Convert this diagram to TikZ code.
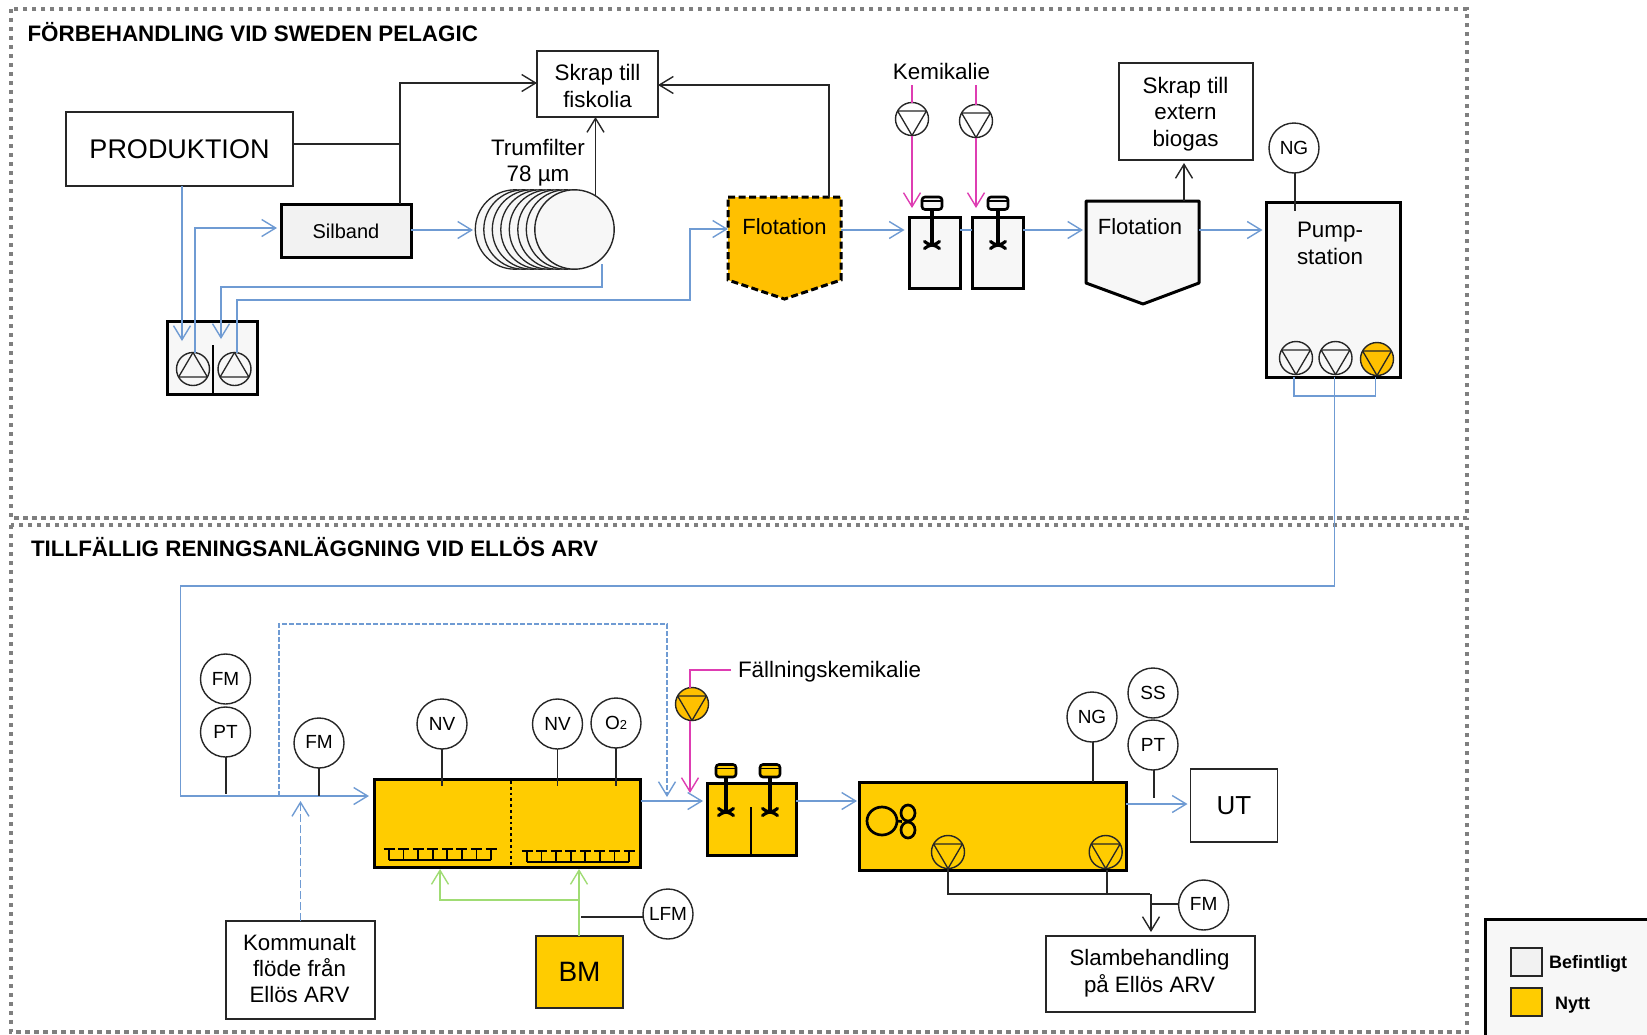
\documentclass[tikz,border=0pt]{standalone}
\usepackage{fontspec}
\setmainfont{Liberation Sans}
\usetikzlibrary{arrows.meta,calc,shapes.geometric}
\definecolor{flowblue}{HTML}{6F9BD3}
\definecolor{chemmag}{HTML}{DE3DB2}
\definecolor{airgreen}{HTML}{A0DC74}
\definecolor{newyel}{HTML}{FFCC00}
\definecolor{newora}{HTML}{FFC000}
\definecolor{oldgray}{HTML}{F7F7F7}
\definecolor{swgray}{HTML}{F2F2F2}
\definecolor{framegray}{HTML}{7F7F7F}
\newcommand{\fs}[1]{\fontsize{#1}{#1}\selectfont}
\tikzset{
  x=1pt,y=-1pt,
  barb/.style={-{Straight Barb[length=14pt,width=17pt,line width=1.4pt]}},
  flow/.style={draw=flowblue,line width=1.7pt},
  flowdash/.style={draw=flowblue,line width=1.5pt,dash pattern=on 5pt off 2pt},
  flowlong/.style={draw=flowblue,line width=1.5pt,dash pattern=on 8pt off 3pt},
  chem/.style={draw=chemmag,line width=1.6pt},
  air/.style={draw=airgreen,line width=1.7pt},
  sig/.style={draw=black!85,line width=1.4pt},
  regionframe/.style={draw=framegray,line width=4pt,dash pattern=on 4.5pt off 4.5pt},
  rbox/.style={rectangle,draw=black!85,line width=1.4pt,fill=white,inner sep=0pt,outer sep=0pt,align=center,font=\fs{22.3}},
  tbox/.style={rbox,draw=black,line width=3pt,fill=oldgray},
  ybox/.style={rbox,draw=black,line width=3pt,fill=newyel},
  txt/.style={inner sep=0pt,outer sep=0pt,align=center,font=\fs{22.4}},
  bold/.style={inner sep=0pt,outer sep=0pt,anchor=west,font=\bfseries\fs{22.4}},
  inst/.style={circle,draw=black!85,line width=1.4pt,fill=white,minimum size=50pt,inner sep=0pt,outer sep=0pt,font=\fs{19}},
  pumpc/.style={circle,draw=black!85,line width=1.4pt,minimum size=33pt,inner sep=0pt,outer sep=0pt},
  tri/.style={draw=black!85,line width=1.3pt,line join=round},
  mech/.style={draw=black,line width=3.1pt,line cap=round},
  motor/.style={draw=black,line width=2.6pt,rounded corners=3pt},
}
% pump symbols: name, position, fill
\newcommand{\pumpdown}[3]{%
  \node[pumpc,fill=#3] (#1) at (#2) {};
  \draw[tri] ([xshift=-14.4pt,yshift=8pt]#1.center) -- ([xshift=14.4pt,yshift=8pt]#1.center) -- ([yshift=-16.5pt]#1.center) -- cycle;}
\newcommand{\pumpup}[3]{%
  \node[pumpc,fill=#3] (#1) at (#2) {};
  \draw[tri] ([xshift=-14.4pt,yshift=-8pt]#1.center) -- ([xshift=14.4pt,yshift=-8pt]#1.center) -- ([yshift=16.5pt]#1.center) -- cycle;}
% mixer: name, x of shaft, motor centre y, blade y, motor fill
\newcommand{\mixer}[5]{%
  \coordinate (#1m) at (#2,#3);
  \coordinate (#1b) at (#2,#4);
  \draw[mech] (#1m) -- (#1b);
  \draw[motor,fill=#5] ([xshift=-10pt,yshift=6pt]#1m) rectangle ([xshift=10pt,yshift=-6.5pt]#1m);
  \draw[black,line width=1.1pt] ([xshift=-9pt,yshift=2pt]#1m) -- ([xshift=9pt,yshift=2pt]#1m);
  \draw[mech] ([xshift=-7.5pt,yshift=3.5pt]#1b) .. controls ([xshift=-3pt,yshift=-1pt]#1b) and ([xshift=3pt,yshift=1pt]#1b) .. ([xshift=7.5pt,yshift=-3.5pt]#1b);
  \draw[mech] ([xshift=-7.5pt,yshift=-3.5pt]#1b) .. controls ([xshift=-3pt,yshift=1pt]#1b) and ([xshift=3pt,yshift=-1pt]#1b) .. ([xshift=7.5pt,yshift=3.5pt]#1b);}
% diffuser: left x, right x, top y, bottom y
\newcommand{\diffuser}[4]{%
  \draw[black,line width=1.7pt] (#1,#4) -- (#2,#4);
  \pgfmathsetmacro{\dstep}{(#2-#1)/7}
  \foreach \k in {0,...,7}{
    \pgfmathsetmacro{\dx}{#1+\k*\dstep}
    \draw[black,line width=1.7pt] (\dx,#4) -- (\dx,#3);
    \draw[black,line width=1.7pt] (\dx-5.5,#3) -- (\dx+5.5,#3);
  }}
\begin{document}
\begin{tikzpicture}
\useasboundingbox (0,0) rectangle (1647,1034);
% regions
\node[inner sep=0pt,minimum width=1456pt,minimum height=509pt] (r1) at (739,263.5) {};
\node[inner sep=0pt,minimum width=1456pt,minimum height=507pt] (r2) at (739,778.5) {};
\draw[regionframe] (r1.north west) rectangle (r1.south east);
\draw[regionframe] (r2.north west) rectangle (r2.south east);
\node[bold] (t1) at (27.5,32) {FÖRBEHANDLING VID SWEDEN PELAGIC};
\node[bold] (t2) at (31,547) {TILLFÄLLIG RENINGSANLÄGGNING VID ELLÖS ARV};

% ---- upper plant nodes
\node[rbox,minimum width=227pt,minimum height=74pt,font=\fs{27}] (prod) at (179.5,149) {PRODUKTION};
\node[rbox,minimum width=121pt,minimum height=66pt] (skrap1) at (597.5,84) {};
\node[txt] (skrap1txt) at (597.5,86) {Skrap till\\[5pt]fiskolia};
\node[tbox,minimum width=130pt,minimum height=53pt,fill=swgray] (silband) at (346,230.5) {};
\node[txt,font=\fs{20}] (silbandtxt) at (346,231) {Silband};
\node[txt] (trumtxt) at (538,163) {Trumfilter\\[4pt]78 µm};
% drum
\foreach \k in {0,...,6}{
  \draw[black!85,line width=1.3pt,fill=oldgray] (515+\k*8.5,229.5) circle[radius=39.7pt];
}
\node[circle,draw=black!85,line width=1.4pt,fill=oldgray,minimum size=79.4pt,inner sep=0pt,outer sep=0pt] (drum) at (574.5,229.5) {};
\coordinate (drumleft) at (473,230);
% sump
\node[tbox,minimum width=90pt,minimum height=73pt] (sump) at (212,357.5) {};
\coordinate (sumptop) at (213,345);
\draw[black,line width=2.4pt] (sumptop) -- (213,394);
\pumpup{sp1}{193,369}{oldgray}
\pumpup{sp2}{234.5,369}{oldgray}
% flotation 1
\node[inner sep=0pt,outer sep=0pt,minimum width=113pt,minimum height=83pt] (flot1) at (784.5,238.5) {};
\coordinate (flot1tip) at (784.5,299);
\draw[black,line width=3pt,dash pattern=on 7pt off 3.5pt,fill=newora] (flot1.north west) -- (flot1.north east) -- (flot1.south east) -- (flot1tip) -- (flot1.south west) -- cycle;
\node[txt,font=\fs{22}] (flot1txt) at (784.5,227) {Flotation};
% chemical pumps
\node[txt] (kem) at (941.5,71.5) {Kemikalie};
\pumpdown{kp1}{912,119}{white}
\pumpdown{kp2}{976,121}{white}
% flocculation tanks
\node[tbox,minimum width=51pt,minimum height=71pt] (ft1) at (934.5,252.5) {};
\node[tbox,minimum width=51pt,minimum height=71pt] (ft2) at (997.5,252.5) {};
\mixer{mx1}{932}{203}{245}{oldgray}
\mixer{mx2}{998}{203}{245}{oldgray}
% flotation 2
\node[inner sep=0pt,outer sep=0pt,minimum width=113pt,minimum height=82pt] (flot2) at (1142.5,242) {};
\coordinate (flot2tip) at (1143,304);
\draw[black,line width=3pt,line join=round,fill=oldgray] (flot2.north west) -- (flot2.north east) -- (flot2.south east) -- (flot2tip) -- (flot2.south west) -- cycle;
\node[txt,font=\fs{22}] (flot2txt) at (1140,227) {Flotation};
\node[rbox,minimum width=134pt,minimum height=97pt] (skrap2) at (1186,111.5) {};
\node[txt] (skrap2txt) at (1185.5,114) {Skrap till\\[4pt]extern\\[4pt]biogas};
% pump station
\node[tbox,minimum width=134pt,minimum height=175pt] (ps) at (1333,289.5) {};
\node[txt] (pstxt) at (1330,243.5) {Pump-\\[5pt]station};
\node[inst,minimum size=50pt] (ng1) at (1294,148) {\raisebox{1pt}{NG}};
\pumpdown{pp1}{1296,358}{oldgray}
\pumpdown{pp2}{1335.5,358}{oldgray}
\pumpdown{pp3}{1377,359}{newora}

% ---- upper connectors
\coordinate (j1) at (400,144);
\coordinate (j2) at (400,83);
\draw[sig] (prod.east |- j1) -- (j1);
\draw[sig,barb] (silband.north -| j1) -- (j2) -- (skrap1.west |- j2);
\coordinate (drumup) at (595.5,195);
\draw[sig,barb] (drumup) -- (drumup |- skrap1.south);
\coordinate (fl1up) at (829,85);
\draw[sig,barb] (fl1up |- flot1.north) -- (fl1up) -- (skrap1.east |- fl1up);
\coordinate (fl2up) at (1184,163);
\draw[sig,barb] (fl2up |- flot2.north) -- (fl2up);
\coordinate (ngd) at (1295,211);
\draw[sig] (ngd |- ng1.south) -- (ngd);

\coordinate (a1) at (182,341);
\draw[flow,barb] (a1 |- prod.south) -- (a1);
\coordinate (a2) at (195,228);
\coordinate (a3) at (277,228);
\draw[flow,barb] (a2 |- sp1.north) -- (a2) -- (a3);
\draw[flow,barb] (silband.east |- drumleft) -- (drumleft);
\coordinate (b1) at (602,287);
\coordinate (b2) at (221,287);
\coordinate (b3) at (221,339);
\draw[flow,barb] (602,264) -- (b1) -- (b2) -- (b3);
\coordinate (c1) at (237,300);
\coordinate (c2) at (690,300);
\coordinate (c3) at (690,229);
\draw[flow,barb] (c1 |- sp2.north) -- (c1) -- (c2) -- (c3) -- (flot1.west |- c3);
\coordinate (d1) at (904.5,230);
\draw[flow,barb] (flot1.east |- d1) -- (d1);
\draw[flow] (ft1.east |- d1) -- (ft2.west |- d1);
\coordinate (d2) at (1083,230);
\draw[flow,barb] (ft2.east |- d2) -- (d2);
\coordinate (d3) at (1262.5,230);
\draw[flow,barb] (flot2.east |- d3) -- (d3);
\coordinate (kt1) at (912,85);
\coordinate (kt2) at (976,85);
\coordinate (ka1) at (912,208);
\coordinate (ka2) at (976,208);
\draw[chem] (kt1) -- (kp1.north);
\draw[chem] (kt2) -- (kp2.north);
\draw[chem,barb] (kp1.south) -- (ka1);
\draw[chem,barb] (kp2.south) -- (ka2);
\coordinate (e1) at (1294,396);
\coordinate (e2) at (1375.5,396);
\coordinate (e3) at (1334.5,586);
\coordinate (e4) at (180.5,586);
\coordinate (e5) at (180.5,796);
\coordinate (e6) at (369,796);
\draw[flow] (e1 |- ps.south) -- (e1) -- (e2) -- (e2 |- ps.south);
\draw[flow,barb] (e3 |- ps.south) -- (e3) -- (e4) -- (e5) -- (e6);

% ---- lower plant nodes
\node[inst] (fm1) at (225.5,679) {FM};
\node[inst] (pt1) at (225.5,732) {PT};
\node[inst] (fm2) at (319,743) {\raisebox{3pt}{FM}};
\node[rbox,minimum width=149pt,minimum height=98pt] (komm) at (300.5,970) {};
\node[txt,font=\fs{22.3}] (kommtxt) at (299.5,968.5) {Kommunalt\\[4pt]flöde från\\[4pt]Ellös ARV};
\node[ybox,minimum width=266.5pt,minimum height=88pt] (bio) at (507.5,823) {};
\coordinate (divtop) at (511,781);
\draw[black,line width=2.8pt,dash pattern=on 2.8pt off 3pt] (divtop) -- (511,866);
\diffuser{389}{491}{849}{860}
\diffuser{527}{629}{851}{862}
\node[inst] (nv1) at (442,724) {NV};
\node[inst] (nv2) at (557.5,724) {NV};
\node[inst] (o2) at (616,723) {O{\fs{13}2}};
\node[rbox,minimum width=87pt,minimum height=72pt,draw=black!85,fill=newyel,font=\fs{28}] (bm) at (579.5,972) {BM};
\node[inst] (lfm) at (668,914) {LFM};
\node[txt,anchor=west] (fall) at (738,672) {Fällningskemikalie};
\pumpdown{fp}{692,704}{newora}
\node[ybox,minimum width=89pt,minimum height=72pt] (mix) at (751.5,819) {};
\coordinate (mixdiv) at (751,807);
\draw[black,line width=2.6pt] (mixdiv) -- (mix.south -| mixdiv);
\mixer{mx3}{726}{770.5}{812}{newyel}
\mixer{mx4}{770}{770.5}{812}{newyel}
\node[ybox,minimum width=267pt,minimum height=88pt] (aer) at (992.5,826) {};
% fan
\node[ellipse,draw=black,line width=2.7pt,minimum width=30pt,minimum height=28pt,inner sep=0pt,outer sep=0pt] (fan) at (882,821) {};
\draw[black,line width=2.7pt] (908,813) ellipse[x radius=7pt,y radius=8pt];
\draw[black,line width=2.7pt] (908,830) ellipse[x radius=7pt,y radius=8pt];
\coordinate (fanhub) at (902,821.5);
\draw[black,line width=2.7pt] (fan.east) -- (fanhub);
\pumpdown{ap1}{948,852}{newyel}
\pumpdown{ap2}{1105.7,852}{newyel}
\node[inst] (ng2) at (1092,717) {NG};
\node[inst] (ss) at (1153,693) {SS};
\node[inst] (pt2) at (1153,745) {PT};
\node[rbox,minimum width=87pt,minimum height=73pt,font=\fs{26}] (ut) at (1234,805.5) {};
\node[txt,font=\fs{26}] (uttxt) at (1234,806) {UT};
\node[inst] (fm3) at (1203.6,905) {\raisebox{3pt}{FM}};
\node[rbox,minimum width=209pt,minimum height=76pt] (slam) at (1150.5,974) {};
\node[txt,font=\fs{22.3}] (slamtxt) at (1149.5,973) {Slambehandling\\[3pt]på Ellös ARV};

% ---- lower connectors
\coordinate (f1) at (226,794);
\draw[sig] (f1 |- pt1.south) -- (f1);
\coordinate (f2) at (319,796);
\draw[sig] (fm2.south) -- (f2);
\coordinate (g1) at (279,796);
\coordinate (g2) at (279,624);
\coordinate (g3) at (667,624);
\coordinate (g4) at (667,797);
\draw[flowdash,barb] (g1) -- (g2) -- (g3) -- (g4);
\coordinate (g5) at (300.5,801);
\draw[flowlong,barb] (g5 |- komm.north) -- (g5);
\coordinate (h1) at (442,786);
\coordinate (h2) at (557.5,786);
\coordinate (h3) at (616,786);
\draw[sig] (nv1.south) -- (h1);
\draw[sig] (nv2.south) -- (h2);
\draw[sig] (h3 |- o2.south) -- (h3);
\coordinate (i1) at (703,801);
\draw[flow,barb] (bio.east |- i1) -- (i1);
\coordinate (i2) at (857,801);
\draw[flow,barb] (mix.east |- i2) -- (i2);
\coordinate (i3) at (1187.5,804);
\draw[flow,barb] (aer.east |- i3) -- (i3);
\coordinate (i4) at (1154,798);
\draw[sig] (i4 |- pt2.south) -- (i4);
\coordinate (i5) at (1093,782);
\draw[sig] (i5 |- ng2.south) -- (i5);
\coordinate (k1) at (690,670);
\coordinate (k2) at (731,670);
\coordinate (k3) at (690,793);
\draw[chem] (k2) -- (k1) -- (k1 |- fp.north);
\draw[chem,barb] (k1 |- fp.south) -- (k3);
\coordinate (l1) at (579,869);
\coordinate (l2) at (579,900);
\coordinate (l3) at (440,900);
\coordinate (l4) at (440,869);
\draw[air,barb] (l1 |- bm.north) -- (l1);
\draw[air,barb] (l2) -- (l3) -- (l4);
\coordinate (m1) at (581,917);
\draw[sig] (m1) -- (lfm.west |- m1);
\coordinate (n1) at (948,894);
\coordinate (n2) at (1150,894);
\coordinate (n3) at (1107,894);
\coordinate (n4) at (1151,894);
\coordinate (n5) at (1151,932);
\coordinate (n6) at (1151,904);
\draw[sig] (ap1.south) -- (n1) -- (n2);
\draw[sig] (n3 |- aer.south) -- (n3);
\draw[sig,barb] (n4) -- (n5);
\draw[sig] (n6) -- (fm3.west |- n6);

% legend
\node[tbox,minimum width=180pt,minimum height=130pt,anchor=north west] (leg) at (1485.5,919) {};
\node[rbox,minimum width=31pt,minimum height=28pt,fill=swgray] (sw1) at (1526.5,962) {};
\node[rbox,minimum width=31pt,minimum height=28pt,fill=newyel] (sw2) at (1526.5,1002) {};
\node[bold,font=\bfseries\fs{18}] (lt1) at (1549,964) {Befintligt};
\node[bold,font=\bfseries\fs{18}] (lt2) at (1555,1005) {Nytt};
\end{tikzpicture}
\end{document}
